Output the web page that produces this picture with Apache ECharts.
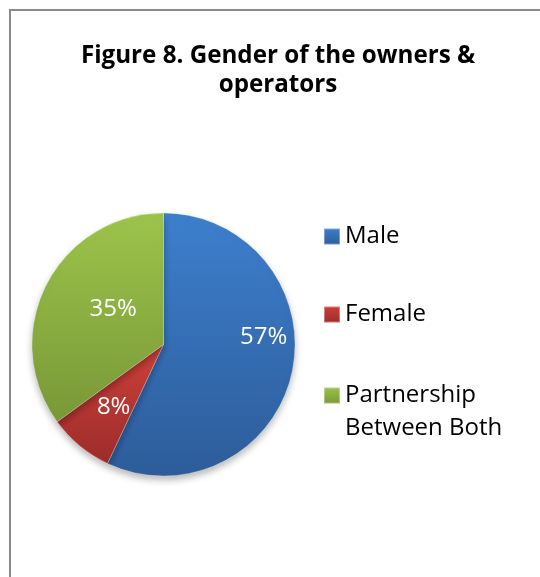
<!DOCTYPE html>
<html>
<head>
<meta charset="utf-8">
<script src="https://cdn.jsdelivr.net/npm/echarts@6/dist/echarts.min.js"></script>
<style>
  html, body { margin: 0; padding: 0; background: #fff; }
  #chart { width: 540px; height: 577px; }
</style>
</head>
<body>
<div id="chart"></div>
<script>
  // 数据
  var categories = ['Male', 'Female', 'Partnership Between Both'];
  var shares = [57, 8, 35];
  var legendLabels = ['Male', 'Female', ' \nPartnership\nBetween Both'];

  // 颜色: [top, bottom]
  var colors = [
    ['#3D7FCD', '#2D5C99'],
    ['#CD403C', '#9C2C29'],
    ['#9DC44B', '#789837']
  ];
  // label nudges (Excel "best fit" placement)
  var labelOffsets = [[33, -22], [-6, 10], [11, -4]];

  var chart = echarts.init(document.getElementById('chart'));

  var data = categories.map(function (name, i) {
    return {
      name: name,
      value: shares[i],
      itemStyle: {
        color: new echarts.graphic.LinearGradient(0, 0, 0, 1, [
          { offset: 0, color: colors[i][0] },
          { offset: 1, color: colors[i][1] }
        ])
      },
      label: { offset: labelOffsets[i] }
    };
  });

  var legendText = {
    fontFamily: 'Open Sans',
    fontSize: 24,
    lineHeight: 33,
    color: '#000'
  };
  function fmtLegend(name) {
    return legendLabels[categories.indexOf(name)];
  }

  chart.setOption({
    backgroundColor: '#fff',
    animation: false,
    title: {
      text: 'Figure 8. Gender of the owners &\noperators',
      left: 273,
      top: 37,
      textAlign: 'center',
      textStyle: {
        fontFamily: 'Open Sans',
        fontWeight: 'bold',
        fontSize: 24.2,
        lineHeight: 29,
        color: '#000'
      }
    },
    // two legends so the two-line entry keeps its icon on the first line
    legend: [{
      orient: 'vertical',
      left: 318,
      top: 215,
      itemWidth: 16,
      itemHeight: 16,
      itemGap: 45,
      icon: 'rect',
      data: categories.slice(0, 2),
      formatter: fmtLegend,
      textStyle: legendText
    }, {
      orient: 'vertical',
      left: 318,
      top: 341,
      itemWidth: 16,
      itemHeight: 16,
      icon: 'rect',
      data: categories.slice(2),
      formatter: fmtLegend,
      textStyle: legendText
    }],
    graphic: [{
      type: 'rect',
      shape: { x: 10, y: 10, width: 700, height: 700 },
      style: { fill: 'none', stroke: '#8a8a8a', lineWidth: 2 },
      silent: true,
      z: -1
    }],
    series: [{
      type: 'pie',
      center: [163.5, 344.5],
      radius: 131.5,
      startAngle: 90,
      clockwise: true,
      avoidLabelOverlap: false,
      itemStyle: {
        borderColor: 'rgba(255,255,255,0.35)',
        borderWidth: 0.8,
        shadowColor: 'rgba(0,0,0,0.28)',
        shadowBlur: 7,
        shadowOffsetY: 4
      },
      label: {
        show: true,
        position: 'inside',
        formatter: '{c}%',
        fontFamily: 'Open Sans',
        fontSize: 24,
        color: '#fff'
      },
      labelLine: { show: false },
      emphasis: { disabled: true },
      data: data
    }]
  });
</script>
</body>
</html>
